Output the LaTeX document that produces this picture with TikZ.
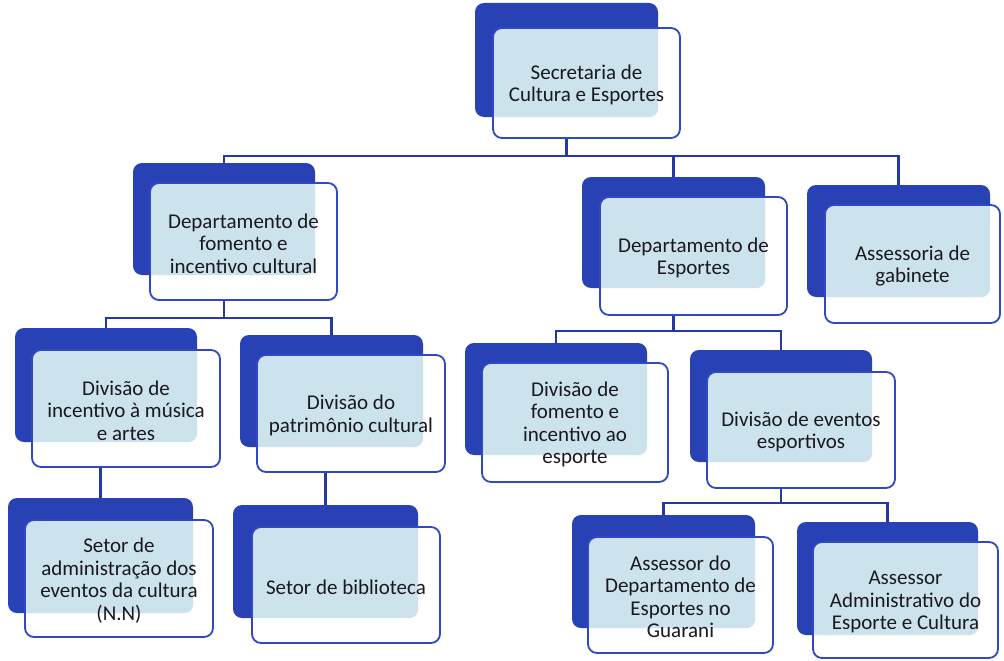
\documentclass[tikz,border=0pt]{standalone}
\usepackage{fontspec}
\setmainfont{Carlito}
\usetikzlibrary{fit}
\definecolor{backc}{RGB}{40,66,182}
\definecolor{lightc}{RGB}{204,227,238}
\definecolor{borderc}{RGB}{48,72,195}
\definecolor{linec}{RGB}{38,56,165}
\definecolor{textc}{RGB}{25,25,30}
\tikzset{
  backbox/.style={fill=backc, rounded corners=9pt, inner sep=0pt, draw=none},
  frontbox/.style={fill=white, draw=borderc, line width=1.8pt, rounded corners=9pt, inner sep=0pt},
  boxtext/.style={align=center, text=textc, inner sep=0pt, font=\fontsize{21}{22.5}\selectfont},
  conn/.style={draw=linec, line width=2.2pt},
}
\newcommand\orgbox[6]{%
  \node[backbox, fit={#2 #3}] (#1b) {};
  \node[frontbox, fit={#4 #5},
    path picture={\fill[lightc, rounded corners=9pt] (#1b.south west) rectangle (#1b.north east);}] (#1) {};
  \node[boxtext] (#1t) at ([yshift=-2pt]#1.center) {#6};
}
\begin{document}
\begin{tikzpicture}[x=1pt,y=-1pt]
\useasboundingbox (0,0) rectangle (1004,661);
\fill[white] (0,0) rectangle (1004,661);

\orgbox{s1}{(475,3)}{(658,117)}{(493,28)}{(680,138)}{Secretaria de\\Cultura e Esportes}
\orgbox{d1}{(133,163)}{(315,275)}{(150,183)}{(337,300)}{Departamento de\\fomento e\\incentivo cultural}
\orgbox{d2}{(582,177)}{(765,288)}{(600,197)}{(787,315)}{Departamento de\\Esportes}
\orgbox{a1}{(807,185)}{(990,297)}{(825,205)}{(1000,323)}{Assessoria de\\gabinete}
\orgbox{v1}{(15,328)}{(197,442)}{(32,350)}{(220,467)}{Divisão de\\incentivo à música\\e artes}
\orgbox{v2}{(240,335)}{(423,447)}{(257,355)}{(445,472)}{Divisão do\\patrimônio cultural}
\orgbox{v3}{(465,343)}{(647,455)}{(482,363)}{(668,482)}{Divisão de\\fomento e\\incentivo ao\\esporte}
\orgbox{v4}{(690,350)}{(872,462)}{(707,372)}{(895,488)}{Divisão de eventos\\esportivos}
\orgbox{t1}{(8,498)}{(193,613)}{(25,520)}{(213,637)}{Setor de\\administração dos\\eventos da cultura\\(N.N)}
\orgbox{t2}{(233,505)}{(418,618)}{(252,527)}{(440,643)}{Setor de biblioteca}
\orgbox{t3}{(572,515)}{(755,628)}{(588,537)}{(773,653)}{Assessor do\\Departamento de\\Esportes no\\Guarani}
\orgbox{t4}{(797,522)}{(978,635)}{(813,542)}{(998,658)}{Assessor\\Administrativo do\\Esporte e Cultura}

% connectors
\coordinate (h1) at (0,156);
\draw[conn] (s1b |- s1.south) -- (s1b |- h1);
\draw[conn] (d1b.north) |- (a1b |- h1) -- (a1b.north);
\draw[conn] (d2b.north) -- (d2b |- h1);

\coordinate (h2) at (0,318);
\draw[conn] (d1b |- d1.south) -- (d1b |- h2);
\draw[conn] (v1b.north) |- (v2b |- h2) -- (v2b.north);

\coordinate (h3) at (0,331);
\draw[conn] (d2b |- d2.south) -- (d2b |- h3);
\draw[conn] (v3b.north) |- (v4b |- h3) -- (v4b.north);

\draw[conn] (t1b.north) -- (t1b.north |- v1.south);
\draw[conn] (t2b.north) -- (t2b.north |- v2.south);

\coordinate (h4) at (0,503);
\draw[conn] (v4b |- v4.south) -- (v4b |- h4);
\draw[conn] (t3b.north) |- (t4b |- h4) -- (t4b.north);
\end{tikzpicture}
\end{document}
